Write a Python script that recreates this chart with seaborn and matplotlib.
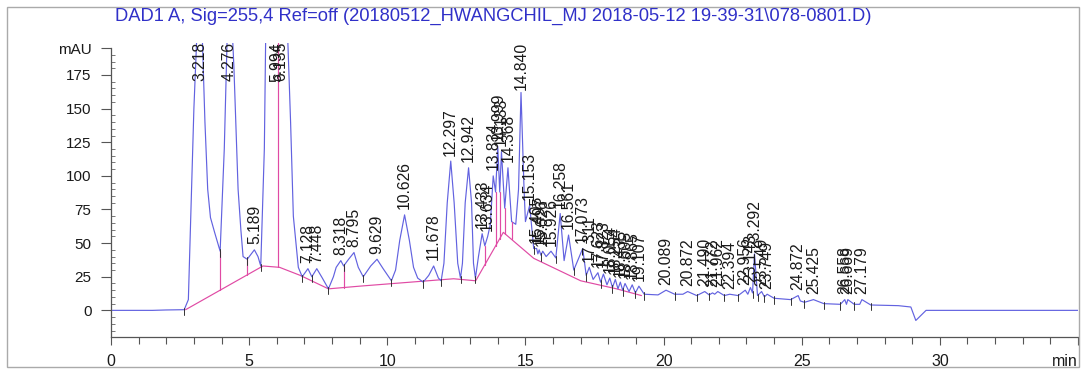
import numpy as np
import pandas as pd
import matplotlib
matplotlib.use("Agg")
import matplotlib.pyplot as plt
import seaborn as sns
from matplotlib.patches import Rectangle

sns.set_theme(style="white")
plt.rcParams["font.family"] = ["Liberation Sans", "DejaVu Sans"]

TITLE = "DAD1 A, Sig=255,4 Ref=off (20180512_HWANGCHIL_MJ 2018-05-12 19-39-31\\078-0801.D)"

# Integrated peaks: retention time (min) and apex absorbance (mAU)
peak_rt = [3.218, 4.276, 5.189, 5.994, 6.135, 7.128, 7.448, 8.318, 8.795, 9.629,
           10.626, 11.678, 12.297, 12.942, 13.433, 13.634, 13.834, 13.999, 14.133,
           14.368, 14.840, 15.153, 15.405, 15.497, 15.626, 15.926, 16.258, 16.561,
           17.073, 17.311, 17.623, 17.823, 18.054, 18.254, 18.435, 18.605, 18.865,
           19.107, 20.089, 20.872, 21.490, 21.772, 21.962, 22.394, 22.956, 23.143,
           23.292, 23.549, 23.749, 24.872, 25.425, 26.558, 26.669, 27.179]
peak_mau = [260, 260, 45, 330, 320, 31, 31, 37, 43, 38,
            71, 33, 111, 106, 57, 55, 100, 122, 118,
            106, 162, 78, 46, 45, 44, 44, 72, 56,
            46, 32, 28, 27, 24, 23, 21, 20, 19,
            18, 15, 14, 14, 13, 14, 12, 15, 17,
            42, 14, 12, 11, 8, 8, 8, 8]

# Signal between the apexes (valleys, flanks, flat stretches)
trace_t = [0.0, 1.5, 2.0, 2.65, 2.8, 3.0, 3.4, 3.5, 3.6, 3.75, 3.95, 4.1, 4.45, 4.6,
           4.7, 4.78, 4.93, 5.32, 5.42, 5.55, 5.62, 6.06, 6.4, 6.5, 6.6, 6.78,
           6.92, 7.27, 7.65, 7.87, 8.05, 8.15, 8.42, 8.6, 8.95, 9.13, 9.4, 9.85,
           10.15, 10.3, 10.45, 10.8, 10.95, 11.1, 11.3, 11.5, 11.85, 11.95, 12.05,
           12.17, 12.42, 12.55, 12.65, 12.72, 12.82, 13.05, 13.12, 13.19,
           13.3, 13.53, 13.73, 13.92, 14.07, 14.25, 14.5, 14.65, 14.75, 14.95,
           15.0, 15.3, 15.45, 15.56, 15.75, 16.1, 16.4, 16.75, 17.2, 17.45, 17.72,
           17.95, 18.15, 18.35, 18.52, 18.75, 18.98, 19.3, 19.8, 20.4, 20.7, 21.2,
           21.65, 21.85, 22.2, 22.7, 23.05, 23.22, 23.4, 23.65, 24.0, 24.6, 24.95,
           25.1, 25.8, 26.4, 26.62, 26.9, 27.1, 27.5, 28.5, 28.95, 29.13, 29.5,
           32.0, 35.0]
trace_mau = [0.0, 0.0, 0.3, 0.5, 8, 150, 140, 90, 69, 58, 44, 120, 180, 90,
             60, 40, 38, 40, 33, 120, 240, 300, 200, 140, 70, 32,
             25, 25, 24, 16, 25, 32, 33, 38, 32, 25, 33, 31,
             22, 30, 52, 52, 32, 24, 21, 26, 24, 22, 35,
             80, 80, 35, 24, 35, 80, 80, 35, 24,
             40, 48, 64, 88, 88, 76, 66, 64, 90, 90,
             66, 46, 42, 41, 40, 39, 37, 30, 26, 23, 21,
             19, 17, 16, 15, 14, 13, 12, 11.5, 12, 12, 11,
             11.5, 12, 11, 11, 12, 13, 11, 10, 9, 8, 7,
             6, 5, 4.5, 4.5, 4.5, 4.5, 4, 3.5, 2.5, -7.5, 0,
             0, 0]

# Integration baseline (pink)
baseline_t = [2.7, 5.5, 6.1, 6.85, 7.87, 9.0, 12.4, 13.2, 14.2, 15.3, 17.0, 18.3, 19.2]
baseline_mau = [0.5, 33, 32, 26, 16, 18, 23.5, 22, 58, 38.7, 22, 16, 11]

# Drop lines between unresolved peaks
drop_t = [3.95, 4.93, 5.42, 6.06, 8.42, 13.53, 13.92, 14.07, 14.25, 14.5]

# Peak start / end markers
marker_t = [2.65, 3.95, 4.93, 5.42, 6.92, 7.27, 7.87, 8.42, 9.13, 10.15, 11.3,
            11.95, 12.65, 13.19, 15.3, 15.56, 16.1, 16.75, 17.2, 17.72, 18.15,
            18.52, 18.98, 19.3, 20.4, 21.2, 21.65, 22.2, 22.7, 23.22, 23.4,
            23.65, 24.0, 24.6, 25.1, 25.8, 26.4, 26.9, 27.5]

x_ticks = [0, 5, 10, 15, 20, 25, 30]
y_ticks = [0, 25, 50, 75, 100, 125, 150, 175]

TRACE = "#6262e0"
PINK = "#e04aa4"
TEXT = "#1a1a1a"
AXIS = "#555555"

signal = pd.DataFrame({"t": list(trace_t) + list(peak_rt),
                       "mAU": list(trace_mau) + list(peak_mau)}).sort_values("t")
base = pd.DataFrame({"t": baseline_t, "mAU": baseline_mau})

W, H = 1083, 369
fig = plt.figure(figsize=(W / 100, H / 100), dpi=100)
y_lo, y_hi = -19.8, 194.8
ax = fig.add_axes([111 / W, (H - 337) / H, (1078 - 111) / W, (337 - 43) / H])
ax.set_xlim(0, 35)
ax.set_ylim(y_lo, y_lo + (337 - 43) / 1.345)

sns.lineplot(data=base, x="t", y="mAU", ax=ax, color=PINK, lw=0.85,
             estimator=None, sort=False)
sns.lineplot(data=signal, x="t", y="mAU", ax=ax, color=TRACE, lw=0.85,
             estimator=None, sort=False)

sig_t = signal["t"].to_numpy()
sig_y = signal["mAU"].to_numpy()
for t in drop_t:
    b = np.interp(t, baseline_t, baseline_mau)
    top = np.interp(t, sig_t, sig_y)
    ax.plot([t, t], [b, top], color=PINK, lw=0.85)
for t in marker_t:
    v = np.interp(t, sig_t, sig_y)
    ax.plot([t, t], [v + 1.5, v - 4], color="#333333", lw=0.7)

# Retention-time labels above each apex, held below the top edge
cap_px = 42
labels = []
for rt, h in zip(peak_rt, peak_mau):
    txt = ax.annotate(f"{rt:.3f}", xy=(rt, min(h, y_hi)), xytext=(0, 4),
                      textcoords="offset points", rotation=90, ha="center",
                      va="bottom", fontsize=11.3, color=TEXT, annotation_clip=False)
    labels.append(txt)
fig.canvas.draw()
renderer = fig.canvas.get_renderer()
cap_y = ax.transData.inverted().transform((0, H - cap_px))[1]
for txt in labels:
    bb = txt.get_window_extent(renderer)
    if bb.y1 > H - cap_px:
        txt.xy = (txt.xy[0], cap_y)
        txt.set_position((0, 0))
        txt.set_va("top")

# Axes styling
sns.despine(ax=ax, top=True, right=True)
for s in ("left", "bottom"):
    ax.spines[s].set_color(AXIS)
    ax.spines[s].set_linewidth(0.9)
ax.spines["left"].set_bounds(y_lo, y_hi)
ax.set_xticks(x_ticks + [35])
ax.set_xticklabels([str(v) for v in x_ticks] + ["min"])
ax.get_xticklabels()[-1].set_ha("right")
ax.set_xticks(np.arange(0, 36, 1), minor=True)
ax.set_yticks(y_ticks + [y_hi])
ax.set_yticklabels([str(v) for v in y_ticks] + ["mAU"])
ax.set_yticks(np.arange(-15, 195, 5), minor=True)
ax.tick_params(axis="both", which="both", bottom=True, left=True)
ax.tick_params(axis="x", which="major", direction="out", length=6, width=0.8,
               color=AXIS, labelsize=11.5, pad=6, labelcolor=TEXT)
ax.tick_params(axis="x", which="minor", direction="out", length=5, width=0.8,
               color=AXIS)
ax.tick_params(axis="y", which="major", direction="out", length=7, width=0.8,
               color=AXIS, labelsize=11, pad=7, labelcolor=TEXT)
ax.tick_params(axis="y", which="minor", direction="in", length=3, width=0.7,
               color="#777777")
ax.set_xlabel("")
ax.set_ylabel("")

fig.text(115 / W, 1 - 16 / H, TITLE, ha="left", va="center", fontsize=13.2,
         color="#3030c8")
fig.patches.append(Rectangle((7 / W, 1 - 367 / H), (1079 - 7) / W, (367 - 7) / H,
                             transform=fig.transFigure, fill=False,
                             edgecolor="#aaaaaa", lw=1))

fig.savefig("out.png", dpi=100)
